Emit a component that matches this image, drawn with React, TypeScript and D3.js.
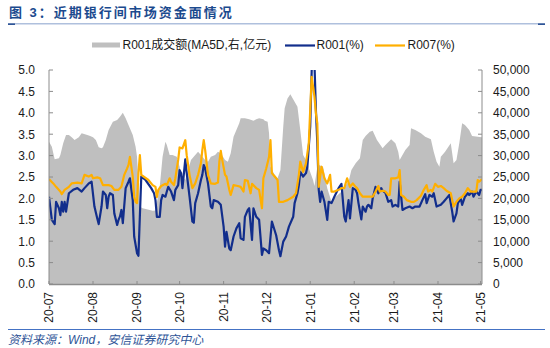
import React from "react";
import * as d3 from "d3";

type Pt = [string, number];

const titleText = "图 3：近期银行间市场资金面情况";
const sourceText = "资料来源：Wind，安信证券研究中心";
const legendVolume = "R001成交额(MA5D,右,亿元)";
const legendR001 = "R001(%)";
const legendR007 = "R007(%)";

const xTickDates = [
  "2020-07-01", "2020-08-01", "2020-09-01", "2020-10-01", "2020-11-01", "2020-12-01",
  "2021-01-01", "2021-02-01", "2021-03-01", "2021-04-01", "2021-05-01",
];
const leftTicks = [0, 0.5, 1, 1.5, 2, 2.5, 3, 3.5, 4, 4.5, 5];
const rightTicks = [0, 5000, 10000, 15000, 20000, 25000, 30000, 35000, 40000, 45000, 50000];

const volume: Pt[] = [
  ["2020-07-01", 33240], ["2020-07-03", 32070], ["2020-07-05", 29130], ["2020-07-08", 29360],
  ["2020-07-09", 30130], ["2020-07-11", 32870], ["2020-07-13", 34800], ["2020-07-15", 34800],
  ["2020-07-17", 34270], ["2020-07-19", 33640], ["2020-07-22", 34270], ["2020-07-24", 35200],
  ["2020-07-28", 34800], ["2020-07-30", 34570], ["2020-08-01", 34270], ["2020-08-03", 33640],
  ["2020-08-05", 31930], ["2020-08-07", 31700], ["2020-08-08", 31930], ["2020-08-10", 33640],
  ["2020-08-12", 35970], ["2020-08-15", 37910], ["2020-08-18", 38300], ["2020-08-20", 39080],
  ["2020-08-22", 40020], ["2020-08-24", 38700], ["2020-08-26", 37140], ["2020-08-29", 34800],
  ["2020-08-31", 32070], ["2020-09-01", 29730], ["2020-09-03", 18050], ["2020-09-05", 17680],
  ["2020-09-12", 17120], ["2020-09-14", 17200], ["2020-09-17", 22730], ["2020-09-19", 29740],
  ["2020-09-21", 33240], ["2020-09-22", 32470], ["2020-09-24", 30130], ["2020-09-26", 30130],
  ["2020-09-29", 29740], ["2020-10-01", 27400], ["2020-10-02", 25460], ["2020-10-05", 24290],
  ["2020-10-07", 26630], ["2020-10-09", 28970], ["2020-10-12", 30130], ["2020-10-14", 30910],
  ["2020-10-16", 30130], ["2020-10-19", 28970], ["2020-10-21", 28570], ["2020-10-23", 29740],
  ["2020-10-26", 30130], ["2020-10-28", 30910], ["2020-10-30", 30520], ["2020-11-02", 28970],
  ["2020-11-04", 28570], ["2020-11-06", 30520], ["2020-11-08", 34410], ["2020-11-10", 35970],
  ["2020-11-12", 37540], ["2020-11-13", 38700], ["2020-11-16", 38700], ["2020-11-19", 38470],
  ["2020-11-22", 38150], ["2020-11-24", 38470], ["2020-11-26", 38700], ["2020-11-29", 38470],
  ["2020-11-30", 38150], ["2020-12-02", 37910], ["2020-12-03", 35200], ["2020-12-04", 27400],
  ["2020-12-07", 25460], ["2020-12-09", 24690], ["2020-12-11", 26630], ["2020-12-13", 36750],
  ["2020-12-14", 41040], ["2020-12-16", 43370], ["2020-12-18", 44310], ["2020-12-20", 43140],
  ["2020-12-23", 41420], ["2020-12-25", 35970], ["2020-12-27", 30130], ["2020-12-29", 28970],
  ["2020-12-31", 27020], ["2021-01-03", 24290], ["2021-01-04", 22890], ["2021-01-06", 27400],
  ["2021-01-07", 27800], ["2021-01-10", 27400], ["2021-01-11", 25860], ["2021-01-13", 22350],
  ["2021-01-16", 19230], ["2021-01-19", 20390], ["2021-01-23", 21560], ["2021-01-25", 22730],
  ["2021-01-28", 23900], ["2021-01-30", 26630], ["2021-02-02", 28190], ["2021-02-05", 29360],
  ["2021-02-07", 33640], ["2021-02-09", 34570], ["2021-02-12", 35580], ["2021-02-14", 35810],
  ["2021-02-17", 33640], ["2021-02-21", 31700], ["2021-02-23", 32470], ["2021-02-27", 33800],
  ["2021-03-02", 32870], ["2021-03-04", 30910], ["2021-03-05", 28970], ["2021-03-07", 30130],
  ["2021-03-09", 31300], ["2021-03-12", 32470], ["2021-03-13", 36370], ["2021-03-16", 35970],
  ["2021-03-20", 35200], ["2021-03-23", 34410], ["2021-03-27", 33800], ["2021-03-29", 30910],
  ["2021-03-31", 28570], ["2021-04-02", 27400], ["2021-04-03", 29740], ["2021-04-06", 30910],
  ["2021-04-10", 32870], ["2021-04-12", 28190], ["2021-04-14", 28970], ["2021-04-16", 32870],
  ["2021-04-18", 37540], ["2021-04-20", 37140], ["2021-04-23", 35970], ["2021-04-25", 34570],
  ["2021-04-29", 34410], ["2021-05-02", 34270],
];

const r001: Pt[] = [
  ["2020-07-01", 2.04], ["2020-07-03", 1.5], ["2020-07-05", 1.4], ["2020-07-06", 1.92],
  ["2020-07-08", 1.77], ["2020-07-09", 1.61], ["2020-07-10", 1.92], ["2020-07-11", 1.69],
  ["2020-07-12", 1.92], ["2020-07-13", 1.69], ["2020-07-15", 2.12], ["2020-07-18", 2.2],
  ["2020-07-21", 2.24], ["2020-07-24", 2.16], ["2020-07-26", 2.24], ["2020-07-29", 2.35],
  ["2020-07-31", 2.39], ["2020-08-02", 1.81], ["2020-08-04", 1.53], ["2020-08-05", 1.4],
  ["2020-08-07", 1.81], ["2020-08-08", 2.16], ["2020-08-10", 2.08], ["2020-08-11", 1.77],
  ["2020-08-12", 2.04], ["2020-08-13", 2.12], ["2020-08-15", 2.08], ["2020-08-16", 1.65],
  ["2020-08-18", 1.38], ["2020-08-19", 1.5], ["2020-08-20", 1.58], ["2020-08-21", 1.73],
  ["2020-08-22", 1.42], ["2020-08-24", 2.24], ["2020-08-26", 2.39], ["2020-08-27", 2.47],
  ["2020-08-29", 1.96], ["2020-08-30", 1.11], ["2020-09-01", 0.72], ["2020-09-02", 0.66],
  ["2020-09-04", 2.51], ["2020-09-07", 2.43], ["2020-09-11", 2.24], ["2020-09-13", 2.12],
  ["2020-09-14", 1.96], ["2020-09-15", 1.57], ["2020-09-17", 1.57], ["2020-09-18", 1.96],
  ["2020-09-19", 2.08], ["2020-09-21", 2.04], ["2020-09-22", 2.16], ["2020-09-23", 2.27],
  ["2020-09-25", 2.16], ["2020-09-27", 1.96], ["2020-09-28", 2.2], ["2020-09-30", 2.31],
  ["2020-10-01", 2.66], ["2020-10-02", 2.59], ["2020-10-03", 2.24], ["2020-10-05", 2.91],
  ["2020-10-06", 2.59], ["2020-10-08", 2.04], ["2020-10-10", 1.46], ["2020-10-11", 1.43],
  ["2020-10-12", 1.89], ["2020-10-14", 2.12], ["2020-10-16", 2.43], ["2020-10-17", 2.55],
  ["2020-10-18", 2.78], ["2020-10-19", 2.7], ["2020-10-21", 2.35], ["2020-10-23", 1.81],
  ["2020-10-24", 1.77], ["2020-10-25", 1.96], ["2020-10-28", 1.92], ["2020-10-30", 1.85],
  ["2020-11-01", 1.34], ["2020-11-02", 0.87], ["2020-11-03", 1.22], ["2020-11-05", 0.83],
  ["2020-11-06", 0.79], ["2020-11-08", 1.11], ["2020-11-10", 1.3], ["2020-11-12", 1.42],
  ["2020-11-13", 1.07], ["2020-11-15", 1.03], ["2020-11-16", 1.57], ["2020-11-18", 1.73],
  ["2020-11-19", 1.77], ["2020-11-21", 1.03], ["2020-11-22", 1.77], ["2020-11-24", 1.57],
  ["2020-11-26", 1.5], ["2020-11-28", 0.68], ["2020-11-29", 0.83], ["2020-12-01", 0.79],
  ["2020-12-03", 0.72], ["2020-12-05", 1.46], ["2020-12-08", 1.14], ["2020-12-10", 0.79],
  ["2020-12-11", 0.65], ["2020-12-13", 0.99], ["2020-12-15", 1.11], ["2020-12-17", 1.34],
  ["2020-12-20", 1.57], ["2020-12-21", 1.89], ["2020-12-23", 2.12], ["2020-12-24", 2.31],
  ["2020-12-25", 2.62], ["2020-12-27", 2.51], ["2020-12-29", 2.59], ["2020-12-30", 2.74],
  ["2021-01-01", 3.68], ["2021-01-03", 6.2], ["2021-01-05", 4.07], ["2021-01-06", 3.29],
  ["2021-01-07", 2.2], ["2021-01-08", 1.92], ["2021-01-09", 2.16], ["2021-01-11", 1.92],
  ["2021-01-13", 1.5], ["2021-01-14", 1.92], ["2021-01-16", 1.89], ["2021-01-18", 2.04],
  ["2021-01-21", 2.24], ["2021-01-23", 2.34], ["2021-01-25", 1.57], ["2021-01-26", 1.46],
  ["2021-01-28", 1.96], ["2021-01-29", 1.53], ["2021-01-31", 2.24], ["2021-02-02", 2.2],
  ["2021-02-03", 2.12], ["2021-02-04", 1.89], ["2021-02-06", 1.51], ["2021-02-07", 1.81],
  ["2021-02-09", 1.69], ["2021-02-10", 1.81], ["2021-02-11", 1.85], ["2021-02-13", 1.77],
  ["2021-02-14", 2.0], ["2021-02-16", 2.27], ["2021-02-18", 2.12], ["2021-02-20", 2.24],
  ["2021-02-21", 2.18], ["2021-02-23", 2.13], ["2021-02-25", 1.92], ["2021-02-27", 1.96],
  ["2021-02-28", 1.81], ["2021-03-02", 1.85], ["2021-03-04", 1.81], ["2021-03-05", 2.39],
  ["2021-03-07", 1.73], ["2021-03-09", 1.77], ["2021-03-12", 1.81], ["2021-03-14", 1.77],
  ["2021-03-16", 1.81], ["2021-03-19", 1.81], ["2021-03-21", 1.96], ["2021-03-23", 2.1],
  ["2021-03-24", 1.89], ["2021-03-26", 2.08], ["2021-03-28", 2.04], ["2021-03-29", 2.12],
  ["2021-03-31", 1.81], ["2021-04-03", 1.85], ["2021-04-05", 1.92], ["2021-04-07", 2.0],
  ["2021-04-09", 2.08], ["2021-04-11", 1.69], ["2021-04-12", 1.46], ["2021-04-14", 1.65],
  ["2021-04-15", 1.89], ["2021-04-17", 2.0], ["2021-04-18", 1.85], ["2021-04-20", 2.04],
  ["2021-04-22", 2.12], ["2021-04-23", 2.08], ["2021-04-25", 2.16], ["2021-04-26", 2.04],
  ["2021-04-28", 2.16], ["2021-04-30", 2.08], ["2021-05-01", 2.2], ["2021-05-02", 2.2],
];

const r007: Pt[] = [
  ["2020-07-01", 2.45], ["2020-07-04", 2.35], ["2020-07-06", 2.27], ["2020-07-09", 2.16],
  ["2020-07-10", 2.1], ["2020-07-12", 2.2], ["2020-07-15", 2.27], ["2020-07-17", 2.35],
  ["2020-07-21", 2.37], ["2020-07-24", 2.35], ["2020-07-26", 2.55], ["2020-07-29", 2.51],
  ["2020-07-31", 2.55], ["2020-08-01", 2.47], ["2020-08-04", 2.49], ["2020-08-06", 2.47],
  ["2020-08-08", 2.31], ["2020-08-12", 2.31], ["2020-08-14", 2.29], ["2020-08-16", 2.2],
  ["2020-08-19", 2.2], ["2020-08-21", 2.27], ["2020-08-23", 2.55], ["2020-08-25", 2.7],
  ["2020-08-26", 2.78], ["2020-08-27", 2.97], ["2020-08-29", 2.51], ["2020-08-30", 2.04],
  ["2020-08-31", 1.92], ["2020-09-01", 1.89], ["2020-09-02", 2.59], ["2020-09-03", 3.01],
  ["2020-09-04", 2.55], ["2020-09-09", 2.43], ["2020-09-12", 2.31], ["2020-09-14", 2.27],
  ["2020-09-15", 2.03], ["2020-09-16", 2.2], ["2020-09-18", 2.29], ["2020-09-21", 2.34],
  ["2020-09-22", 2.31], ["2020-09-24", 2.47], ["2020-09-25", 2.39], ["2020-09-27", 2.31],
  ["2020-09-28", 2.47], ["2020-09-30", 2.9], ["2020-10-01", 3.19], ["2020-10-03", 3.17],
  ["2020-10-05", 3.36], ["2020-10-06", 3.01], ["2020-10-08", 2.55], ["2020-10-10", 2.24],
  ["2020-10-12", 2.35], ["2020-10-14", 2.55], ["2020-10-16", 2.82], ["2020-10-17", 3.13],
  ["2020-10-18", 3.36], ["2020-10-19", 3.13], ["2020-10-21", 2.55], ["2020-10-23", 2.35],
  ["2020-10-26", 2.34], ["2020-10-28", 2.37], ["2020-10-29", 2.86], ["2020-10-30", 3.11],
  ["2020-10-31", 2.9], ["2020-11-02", 2.55], ["2020-11-03", 2.51], ["2020-11-05", 2.2],
  ["2020-11-06", 2.08], ["2020-11-08", 2.31], ["2020-11-11", 2.29], ["2020-11-13", 2.27],
  ["2020-11-15", 2.16], ["2020-11-16", 2.43], ["2020-11-18", 2.41], ["2020-11-20", 2.12],
  ["2020-11-21", 2.34], ["2020-11-24", 2.24], ["2020-11-26", 2.2], ["2020-11-28", 1.77],
  ["2020-11-29", 2.47], ["2020-12-01", 2.7], ["2020-12-03", 2.97], ["2020-12-04", 3.36],
  ["2020-12-05", 2.59], ["2020-12-07", 2.51], ["2020-12-09", 2.43], ["2020-12-10", 1.92],
  ["2020-12-13", 1.92], ["2020-12-16", 1.96], ["2020-12-20", 2.04], ["2020-12-22", 2.12],
  ["2020-12-24", 2.55], ["2020-12-25", 2.86], ["2020-12-27", 2.62], ["2020-12-29", 2.82],
  ["2020-12-31", 3.29], ["2021-01-01", 4.07], ["2021-01-02", 4.84], ["2021-01-04", 4.38],
  ["2021-01-05", 3.99], ["2021-01-06", 3.75], ["2021-01-07", 2.27], ["2021-01-09", 2.74],
  ["2021-01-11", 2.47], ["2021-01-13", 2.35], ["2021-01-15", 2.55], ["2021-01-16", 2.16],
  ["2021-01-18", 2.16], ["2021-01-21", 2.2], ["2021-01-23", 2.24], ["2021-01-25", 2.24],
  ["2021-01-27", 2.47], ["2021-01-29", 2.27], ["2021-01-31", 2.35], ["2021-02-02", 2.27],
  ["2021-02-03", 2.24], ["2021-02-05", 2.12], ["2021-02-07", 2.04], ["2021-02-11", 2.04],
  ["2021-02-14", 2.04], ["2021-02-16", 2.16], ["2021-02-18", 2.29], ["2021-02-19", 2.16],
  ["2021-02-21", 2.18], ["2021-02-23", 2.16], ["2021-02-25", 2.08], ["2021-02-26", 2.08],
  ["2021-02-27", 2.47], ["2021-03-02", 2.47], ["2021-03-04", 2.49], ["2021-03-05", 2.66],
  ["2021-03-06", 2.08], ["2021-03-08", 2.04], ["2021-03-10", 1.96], ["2021-03-13", 1.92],
  ["2021-03-15", 1.92], ["2021-03-17", 1.96], ["2021-03-20", 2.06], ["2021-03-22", 2.2],
  ["2021-03-24", 2.31], ["2021-03-25", 2.16], ["2021-03-27", 2.2], ["2021-03-28", 2.16],
  ["2021-03-30", 2.34], ["2021-04-01", 2.27], ["2021-04-03", 2.29], ["2021-04-05", 2.24],
  ["2021-04-07", 2.18], ["2021-04-10", 2.12], ["2021-04-12", 1.81], ["2021-04-14", 1.92],
  ["2021-04-16", 2.0], ["2021-04-18", 2.04], ["2021-04-20", 2.12], ["2021-04-22", 2.24],
  ["2021-04-24", 2.16], ["2021-04-26", 2.16], ["2021-04-28", 2.16], ["2021-04-29", 2.43],
  ["2021-04-30", 2.39], ["2021-05-02", 2.45],
];

const COLORS = {
  area: "#BFBFBF",
  r001: "#122E8C",
  r007: "#FFAF00",
  axis: "#8C8C8C",
  text: "#1A1A1A",
  title: "#1B4A8E",
  source: "#2F5597",
};

const LATIN = "'Liberation Sans', Arial, 'Noto Sans CJK SC', sans-serif";

export default function App() {
  const parse = d3.utcParse("%Y-%m-%d");
  const fmt = d3.utcFormat("%y-%m");
  const plot = { left: 49, right: 482, top: 70, bottom: 284 };

  const x = d3
    .scaleUtc()
    .domain([parse("2020-07-01")!, parse("2021-05-02")!])
    .range([plot.left, plot.right]);
  const yL = d3.scaleLinear().domain([0, 5]).range([plot.bottom, plot.top]);
  const yR = d3.scaleLinear().domain([0, 50000]).range([plot.bottom, plot.top]);

  const area = d3
    .area<Pt>()
    .x((d) => x(parse(d[0])!))
    .y0(yR(0))
    .y1((d) => yR(d[1]));
  const line = d3
    .line<Pt>()
    .x((d) => x(parse(d[0])!))
    .y((d) => yL(d[1]));

  return (
    <svg
      width={550}
      height={348}
      style={{ position: "absolute", left: 0, top: 0, background: "#fff" }}
      fontFamily={LATIN}
    >
      <defs>
        <clipPath id="plotClip">
          <rect x={plot.left} y={plot.top} width={plot.right - plot.left} height={plot.bottom - plot.top} />
        </clipPath>
      </defs>

      {/* title */}
      <text
        x={9}
        y={16.5}
        fontSize={13}
        fontWeight="bold"
        fill={COLORS.title}
        letterSpacing={2}
        fontFamily="'Liberation Sans', 'Noto Sans CJK SC', sans-serif"
      >
        {titleText}
      </text>
      <line x1={8} x2={545} y1={23.8} y2={23.8} stroke="#AFC0DD" strokeWidth={1.5} />
      <line x1={8} x2={15} y1={24.2} y2={24.2} stroke="#2F5597" strokeWidth={1.6} />
      <line x1={538} x2={545} y1={24.2} y2={24.2} stroke="#2F5597" strokeWidth={1.6} />

      {/* legend */}
      <rect x={92} y={42.5} width={28} height={5} fill={COLORS.area} />
      <text x={122.5} y={49.3} fontSize={12} fill={COLORS.text}>
        {legendVolume}
      </text>
      <line x1={285} x2={315} y1={45.5} y2={45.5} stroke={COLORS.r001} strokeWidth={2.2} />
      <text x={316.5} y={49.3} fontSize={12} fill={COLORS.text}>
        {legendR001}
      </text>
      <line x1={375} x2={405} y1={45.5} y2={45.5} stroke={COLORS.r007} strokeWidth={2.2} />
      <text x={407.5} y={49.3} fontSize={12} fill={COLORS.text}>
        {legendR007}
      </text>

      {/* series */}
      <g clipPath="url(#plotClip)">
        <path d={area(volume) ?? ""} fill={COLORS.area} />
        <path d={line(r001) ?? ""} fill="none" stroke={COLORS.r001} strokeWidth={2.2} strokeLinejoin="round" />
        <path d={line(r007) ?? ""} fill="none" stroke={COLORS.r007} strokeWidth={2.2} strokeLinejoin="round" />
      </g>

      {/* left axis */}
      <line x1={plot.left} x2={plot.left} y1={plot.top} y2={plot.bottom} stroke={COLORS.axis} strokeWidth={1} />
      {leftTicks.map((t) => (
        <g key={"l" + t}>
          <line x1={plot.left} x2={plot.left + 4} y1={yL(t)} y2={yL(t)} stroke={COLORS.axis} strokeWidth={1} />
          <text x={35} y={yL(t)} dy="0.36em" textAnchor="end" fontSize={12} fill={COLORS.text}>
            {t.toFixed(1)}
          </text>
        </g>
      ))}

      {/* right axis */}
      <line x1={plot.right} x2={plot.right} y1={plot.top} y2={plot.bottom} stroke={COLORS.axis} strokeWidth={1} />
      {rightTicks.map((t) => (
        <g key={"r" + t}>
          <line x1={plot.right - 4} x2={plot.right} y1={yR(t)} y2={yR(t)} stroke={COLORS.axis} strokeWidth={1} />
          <text x={493} y={yR(t)} dy="0.36em" textAnchor="start" fontSize={12} fill={COLORS.text}>
            {d3.format(",")(t)}
          </text>
        </g>
      ))}

      {/* bottom axis */}
      <line x1={plot.left} x2={plot.right} y1={plot.bottom + 0.5} y2={plot.bottom + 0.5} stroke={COLORS.axis} strokeWidth={1.3} />
      {xTickDates.map((s) => {
        const xv = x(parse(s)!);
        return (
          <g key={s}>
            <line x1={xv} x2={xv} y1={plot.bottom - 3} y2={plot.bottom} stroke={COLORS.axis} strokeWidth={1} />
            <text
              transform={`translate(${xv},${292}) rotate(-90)`}
              dy="0.36em"
              textAnchor="end"
              fontSize={12}
              fill={COLORS.text}
            >
              {fmt(parse(s)!)}
            </text>
          </g>
        );
      })}

      {/* source */}
      <line x1={8} x2={545} y1={329.5} y2={329.5} stroke="#4472C4" strokeWidth={1.2} />
      <text
        x={8}
        y={344}
        fontSize={12}
        fontStyle="italic"
        fill={COLORS.source}
        fontFamily="'Liberation Sans', 'Noto Sans CJK SC', sans-serif"
      >
        {sourceText}
      </text>
    </svg>
  );
}
